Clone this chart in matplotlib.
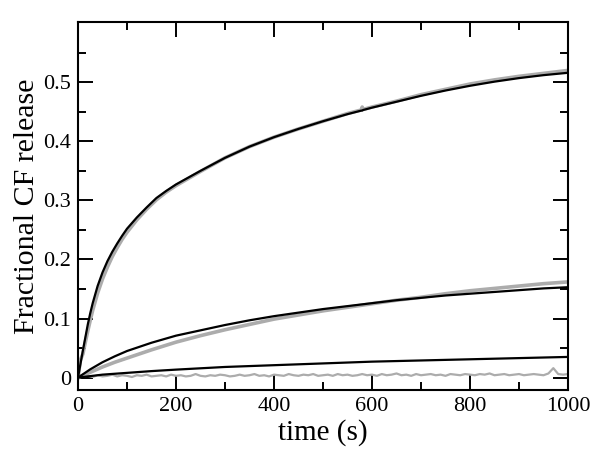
#!/usr/bin/env python
"""
Fractional CF release over time: grey traces are measured data,
black lines are the fits.
"""

import numpy as np
import matplotlib
matplotlib.use("Agg")
import matplotlib.pyplot as plt
from matplotlib.ticker import MultipleLocator, FixedLocator

# Fast curve: fit (black) and data (grey)
T_FAST = [0, 5, 10, 15, 20, 25, 30, 40, 50, 60, 70, 80, 90, 100, 120, 140,
          160, 180, 200, 250, 300, 350, 400, 450, 500, 550, 578, 580, 582,
          600, 650, 700, 750, 800, 850, 900, 950, 1000]
FIT_FAST = [0, 0.023, 0.046, 0.068, 0.090, 0.109, 0.126, 0.155, 0.178,
            0.197, 0.213, 0.227, 0.240, 0.252, 0.271, 0.288, 0.304, 0.316,
            0.327, 0.350, 0.372, 0.391, 0.407, 0.421, 0.434, 0.446, 0.452,
            0.452, 0.453, 0.457, 0.467, 0.477, 0.486, 0.494, 0.501, 0.507,
            0.512, 0.516]
DATA_FAST = [0, 0.030, 0.040, 0.060, 0.079, 0.097, 0.114, 0.143, 0.167,
             0.187, 0.205, 0.220, 0.234, 0.246, 0.267, 0.285, 0.301, 0.314,
             0.325, 0.349, 0.372, 0.391, 0.407, 0.421, 0.434, 0.447, 0.453,
             0.458, 0.454, 0.458, 0.468, 0.479, 0.488, 0.497, 0.504, 0.510,
             0.515, 0.520]

# Middle curve
T_MID = [0, 25, 50, 75, 100, 150, 200, 250, 300, 350, 400, 450, 500, 550,
         600, 650, 700, 750, 800, 850, 900, 950, 1000]
FIT_MID = [0, 0.014, 0.026, 0.036, 0.045, 0.059, 0.071, 0.080, 0.089,
           0.097, 0.104, 0.110, 0.116, 0.121, 0.126, 0.131, 0.135, 0.139,
           0.142, 0.145, 0.148, 0.151, 0.153]
DATA_MID = [0, 0.009, 0.018, 0.026, 0.033, 0.047, 0.060, 0.071, 0.081,
            0.090, 0.099, 0.106, 0.113, 0.119, 0.125, 0.131, 0.136, 0.142,
            0.147, 0.151, 0.155, 0.159, 0.162]

# Slow curve
T_SLOW = [0, 50, 100, 150, 200, 300, 400, 500, 600, 700, 800, 900, 1000]
FIT_SLOW = [0, 0.005, 0.008, 0.011, 0.0135, 0.018, 0.021, 0.024, 0.027,
            0.029, 0.031, 0.033, 0.035]
# slow data, one value every 10 s
DATA_SLOW = [
    0.000, 0.002, 0.003, 0.001, 0.004, 0.002, 0.003, 0.005, 0.002, 0.004,
    0.003, 0.001, 0.004, 0.003, 0.005, 0.002, 0.003, 0.004, 0.002, 0.005,
    0.003, 0.004, 0.002, 0.003, 0.006, 0.003, 0.002, 0.004, 0.003, 0.005,
    0.004, 0.002, 0.003, 0.005, 0.003, 0.004, 0.006, 0.003, 0.004, 0.002,
    0.005, 0.004, 0.003, 0.006, 0.004, 0.003, 0.005, 0.004, 0.006, 0.003,
    0.004, 0.005, 0.003, 0.006, 0.004, 0.005, 0.003, 0.004, 0.006, 0.004,
    0.005, 0.003, 0.006, 0.004, 0.005, 0.007, 0.004, 0.005, 0.003, 0.006,
    0.004, 0.005, 0.006, 0.004, 0.005, 0.003, 0.006, 0.005, 0.004, 0.006,
    0.005, 0.004, 0.006, 0.005, 0.007, 0.004, 0.005, 0.006, 0.004, 0.005,
    0.006, 0.004, 0.005, 0.006, 0.005, 0.004, 0.007, 0.016, 0.006, 0.005,
    0.006]
T_SLOW_DATA = np.arange(len(DATA_SLOW)) * 10

Y_TICKS = [0, 0.1, 0.2, 0.3, 0.4, 0.5]
Y_TICK_LABELS = ['0', '0.1', '0.2', '0.3', '0.4', '0.5']

plt.rcParams['font.family'] = ['Liberation Serif', 'DejaVu Serif']

fig = plt.figure(figsize=(6, 4.57), dpi=100)
ax = fig.add_axes([0.13, 0.1466, 0.8167, 0.8053])

grey = '#acacac'
# data first, fits on top
ax.plot(T_FAST, DATA_FAST, color=grey, lw=2.6)
ax.plot(T_MID, DATA_MID, color=grey, lw=2.6)
ax.plot(T_SLOW_DATA, DATA_SLOW, color=grey, lw=1.6)
ax.plot(T_FAST, FIT_FAST, color='black', lw=1.6)
ax.plot(T_MID, FIT_MID, color='black', lw=1.6)
ax.plot(T_SLOW, FIT_SLOW, color='black', lw=1.6)

ax.set_xlim(0, 1000)
ax.set_ylim(-0.021, 0.602)

ax.xaxis.set_major_locator(MultipleLocator(200))
ax.xaxis.set_minor_locator(MultipleLocator(100))
ax.yaxis.set_major_locator(FixedLocator(Y_TICKS))
ax.yaxis.set_minor_locator(FixedLocator([0.05, 0.15, 0.25, 0.35, 0.45, 0.55]))
ax.set_yticklabels(Y_TICK_LABELS)

ax.tick_params(which='both', direction='in', top=True, right=True,
               width=1.4, labelsize=16)
ax.tick_params(which='major', length=11, pad=5)
ax.tick_params(which='minor', length=5.5)
for s in ax.spines.values():
    s.set_linewidth(1.5)

ax.set_xlabel('time (s)', fontsize=21, labelpad=2)
ax.set_ylabel('Fractional CF release', fontsize=21.5, labelpad=2)

fig.savefig('out.png', dpi=100)
